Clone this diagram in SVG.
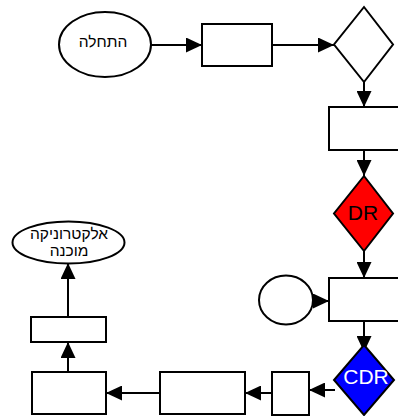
<svg xmlns="http://www.w3.org/2000/svg" width="398" height="416" viewBox="0 0 398 416">
<style>
.s{fill:#fff;stroke:#000;stroke-width:2}
.c line{stroke:#000;stroke-width:2;marker-end:url(#ah)}
text{font-family:"Liberation Sans",Arial,"DejaVu Sans",sans-serif;text-anchor:middle}
.h{font-size:15.5px;fill:#000}
.b{font-size:21px}
</style>
<defs>
<marker id="ah" markerWidth="16" markerHeight="15" refX="16" refY="7.5" orient="auto" markerUnits="userSpaceOnUse">
<path d="M0,0 L16,7.5 L0,15 z" fill="#000"/>
</marker>
</defs>
<rect width="398" height="416" fill="#fff"/>
<g class="c">
<line x1="151" y1="45" x2="202" y2="45"/>
<line x1="272" y1="45" x2="334" y2="45"/>
<line x1="364" y1="82" x2="364" y2="107"/>
<line x1="364" y1="150" x2="364" y2="176"/>
<line x1="364" y1="251" x2="364" y2="278"/>
<line x1="312" y1="301" x2="329" y2="301"/>
<line x1="364" y1="321" x2="364" y2="352"/>
<line x1="335" y1="390" x2="309" y2="390"/>
<line x1="272" y1="393" x2="245" y2="393"/>
<line x1="160" y1="393" x2="106" y2="393"/>
<line x1="68" y1="372" x2="68" y2="342"/>
<line x1="68" y1="317" x2="68" y2="263"/>
</g>
<g id="start"><ellipse class="s" cx="105" cy="44.5" rx="46" ry="32.5"/><text class="h" x="103" y="47">התחלה</text></g>
<g id="rect1"><rect class="s" x="202" y="24" width="70" height="42"/></g>
<g id="decision1"><polygon class="s" points="364,7 393,44.5 364,82 334,44.5"/></g>
<g id="rect2"><rect class="s" x="329" y="107" width="72" height="43"/></g>
<g id="dr"><polygon class="s" style="fill:#f00" points="364,176 393,213.5 364,251 334,213.5"/><text class="b" x="363" y="220" fill="#000">DR</text></g>
<g id="rect3"><rect class="s" x="329" y="278" width="72" height="43"/></g>
<g id="circle"><ellipse class="s" cx="286" cy="300" rx="27" ry="24.5"/></g>
<g id="cdr"><polygon class="s" style="fill:#00f" points="364,345 394,380 364,415 334,380"/><text class="b" x="366" y="384" fill="#fff">CDR</text></g>
<g id="rect4"><rect class="s" x="272" y="372" width="37" height="43"/></g>
<g id="rect5"><rect class="s" x="160" y="372" width="85" height="42"/></g>
<g id="rect6"><rect class="s" x="32" y="372" width="74" height="42"/></g>
<g id="rect7"><rect class="s" x="31" y="317" width="75" height="25"/></g>
<g id="end"><ellipse class="s" cx="68.5" cy="242.5" rx="56" ry="21"/><text class="h" x="69" y="239">אלקטרוניקה</text><text class="h" x="69" y="256">מוכנה</text></g>
</svg>
